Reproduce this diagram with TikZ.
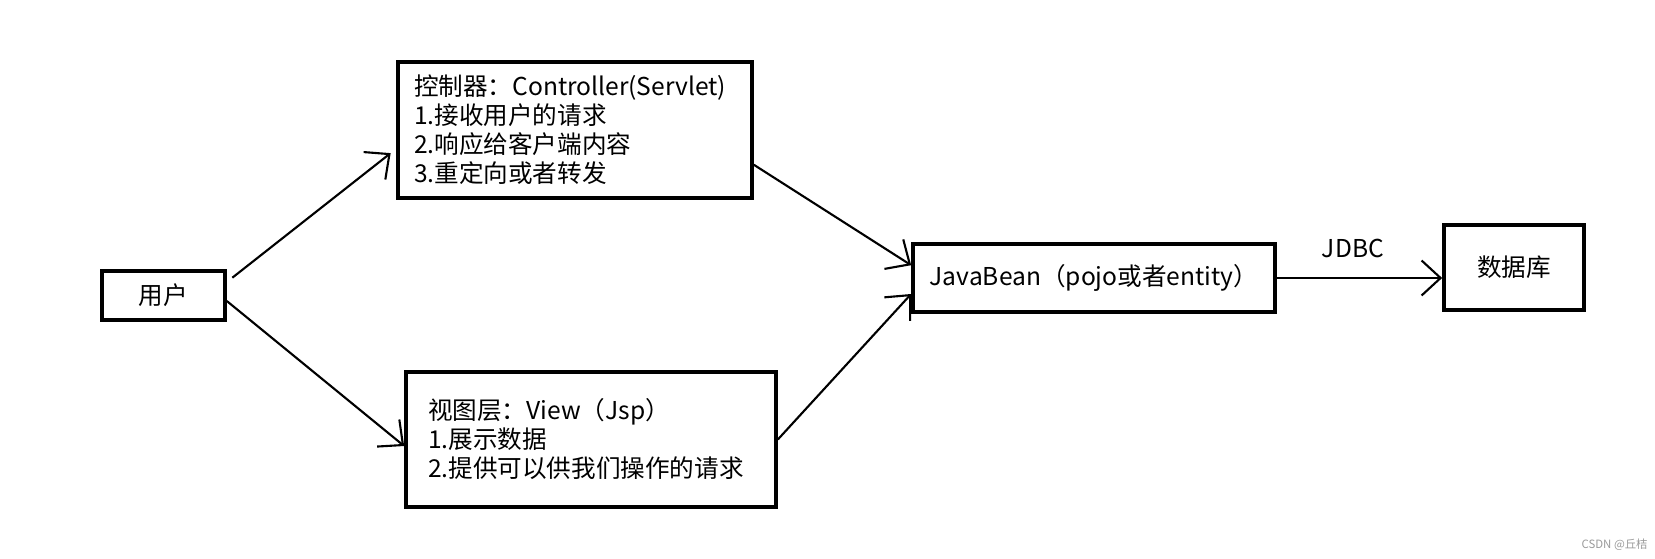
\documentclass[tikz,border=0pt]{standalone}
\usepackage{fontspec}
\setmainfont{Noto Sans CJK SC}
\usetikzlibrary{arrows.meta,calc}
\definecolor{mark}{HTML}{9A9A9A}
\tikzset{arr/.style={-{Straight Barb[length=3.8mm,width=7mm]},line width=1.2pt},
  box/.style={draw,line width=2.1pt,inner sep=0pt,font=\fontsize{14}{16.5}\selectfont},
  listbox/.style={box,align=left,inner xsep=0.32cm,minimum height=2.72cm}}

\begin{document}
\begin{tikzpicture}
\useasboundingbox (0,0) rectangle (33.1,-11.18);
\node[box,minimum width=2.46cm,minimum height=0.98cm] (user) at (3.27,-5.91) {用户};
\node[listbox,text width=6.44cm] (ctrl) at (11.50,-2.60) {控制器：Controller(Servlet)\\1.接收用户的请求\\2.响应给客户端内容\\3.重定向或者转发};
\node[listbox,text width=6.52cm,inner xsep=0.44cm,minimum height=2.7cm] (view) at (11.82,-8.79) {视图层：View（Jsp）\\1.展示数据\\2.提供可以供我们操作的请求};
\node[box,minimum width=7.24cm,minimum height=1.36cm] (bean) at (21.88,-5.56) {JavaBean（pojo或者entity）};
\node[box,minimum width=2.8cm,minimum height=1.7cm] (db) at (30.28,-5.35) {数据库};
\draw[arr,shorten <=0.14cm,shorten >=0.14cm] (user.12) -- (ctrl.186);
\draw[arr] (user.-5) -- (view.182);
\draw[arr] (ctrl.-11) -- (bean.176);
\draw[arr] (view.east) -- (bean.185);
\draw[arr] (bean.east) -- node[pos=0.46,yshift=0.6cm,font=\fontsize{14}{16.5}\selectfont] (jdbc) {JDBC} (bean.east -| db.west);
\node[anchor=east,text=mark,font=\fontsize{6.5}{7}\selectfont,inner sep=0pt] (csdn) at (32.96,-10.9) {CSDN @丘桔};
\end{tikzpicture}
\end{document}
